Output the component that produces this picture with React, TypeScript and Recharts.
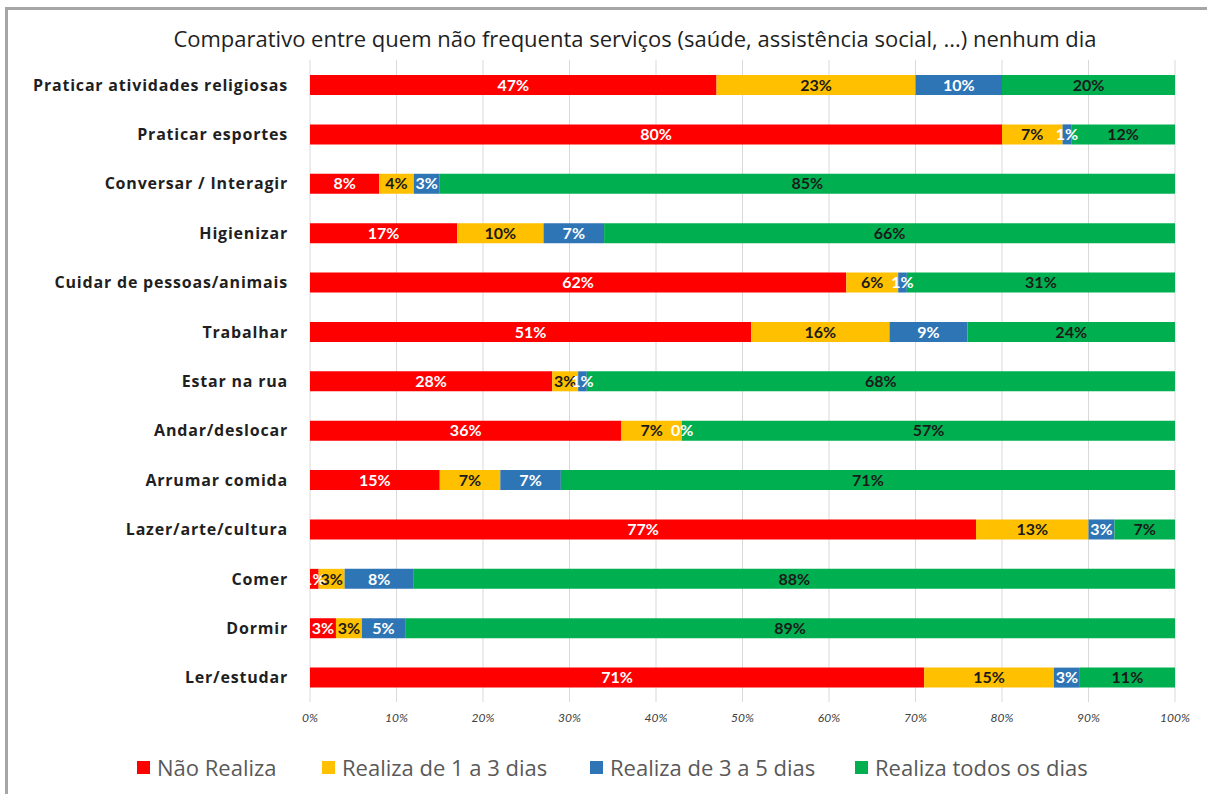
import React from "react";
import { BarChart, Bar, XAxis, YAxis, CartesianGrid, LabelList } from "recharts";

const categories = [
  "Praticar atividades religiosas",
  "Praticar esportes",
  "Conversar / Interagir",
  "Higienizar",
  "Cuidar de pessoas/animais",
  "Trabalhar",
  "Estar na rua",
  "Andar/deslocar",
  "Arrumar comida",
  "Lazer/arte/cultura",
  "Comer",
  "Dormir",
  "Ler/estudar",
];
const naoRealiza = [47, 80, 8, 17, 62, 51, 28, 36, 15, 77, 1, 3, 71];
const de1a3 = [23, 7, 4, 10, 6, 16, 3, 7, 7, 13, 3, 3, 15];
const de3a5 = [10, 1, 3, 7, 1, 9, 1, 0, 7, 3, 8, 5, 3];
const todos = [20, 12, 85, 66, 31, 24, 68, 57, 71, 7, 88, 89, 11];
const xTicks = [0, 10, 20, 30, 40, 50, 60, 70, 80, 90, 100];

const seriesNames = ["Não Realiza", "Realiza de 1 a 3 dias", "Realiza de 3 a 5 dias", "Realiza todos os dias"];
const seriesColors = ["#FF0000", "#FFC000", "#2E75B6", "#00B050"];
const labelColors = ["#FFFFFF", "#1A1A1A", "#FFFFFF", "#1A1A1A"];
const keys = ["a", "b", "c", "d"];
const seriesValues = [naoRealiza, de1a3, de3a5, todos];

const data = categories.map((name, i) => ({
  name,
  a: naoRealiza[i],
  b: de1a3[i],
  c: de3a5[i],
  d: todos[i],
}));

const FONT = "Lato, 'Open Sans', sans-serif";
const WIDE = "'Open Sans', Lato, sans-serif";

const CategoryTick = (props: any) => {
  const { x, y, payload } = props;
  return (
    <text x={x} y={y} textAnchor="end" dominantBaseline="central" fontFamily={WIDE} fontWeight={700} fontSize={16} letterSpacing={0.8} fill="#1F1F1F">
      {payload.value}
    </text>
  );
};

const XTick = (props: any) => {
  const { x, y, payload } = props;
  return (
    <text x={x} y={y + 12} textAnchor="middle" fontFamily={FONT} fontStyle="italic" fontSize={12} fill="#404040">
      {payload.value + "%"}
    </text>
  );
};

const LegendBlock = () => {
  const lefts = [137, 322, 590, 855];
  return (
    <div style={{ position: "absolute", left: 0, top: 752, width: 1207, height: 30 }}>
      {seriesNames.map((n, i) => (
        <div key={n} style={{ position: "absolute", left: lefts[i], top: 0, display: "flex", alignItems: "center", fontFamily: WIDE, fontSize: 22, color: "#595959", whiteSpace: "nowrap" }}>
          <span style={{ display: "inline-block", width: 13, height: 13, background: seriesColors[i], marginRight: 7 }} />
          {n}
        </div>
      ))}
    </div>
  );
};

export default function App() {
  return (
    <div style={{ position: "fixed", left: 0, top: 0, width: 1207, height: 794, background: "#fff", overflow: "hidden" }}>
      <div style={{ position: "absolute", left: 5, top: 7, width: 1220, height: 800, borderLeft: "3px solid #A6A6A6", borderTop: "3px solid #A6A6A6", boxSizing: "border-box" }} />
      <div style={{ position: "absolute", left: 0, top: 23, width: 1270, textAlign: "center", fontFamily: WIDE, fontSize: 22, color: "#1F1F1F" }}>
        Comparativo entre quem não frequenta serviços (saúde, assistência social, ...) nenhum dia
      </div>
      <div style={{ position: "absolute", left: 0, top: 0 }}>
        <BarChart
          width={1207}
          height={794}
          data={data}
          layout="vertical"
          margin={{ top: 60, right: 32, left: 0, bottom: 62 }}
          barSize={20}
        >
          <CartesianGrid horizontal={false} vertical={true} stroke="#D9D9D9" strokeWidth={1} />
          <XAxis
            type="number"
            domain={[0, 100]}
            ticks={xTicks}
            axisLine={false}
            tickLine={false}
            height={30}
            tick={<XTick />}
            interval={0}
          />
          <YAxis
            type="category"
            dataKey="name"
            width={310}
            axisLine={false}
            tickLine={false}
            tickSize={0}
            tickMargin={22}
            tick={<CategoryTick />}
            interval={0}
          />
          {keys.map((k, i) => (
            <Bar
              key={k}
              dataKey={k}
              name={seriesNames[i]}
              stackId="s"
              fill={seriesColors[i]}
              isAnimationActive={false}
              minPointSize={((_v: any, idx: number) => (seriesValues[i][idx] === 0 ? 0.5 : 0)) as any}
            >
              <LabelList
                dataKey={k}
                position="center"
                formatter={(v: any) => `${v}%`}
                fill={labelColors[i]}
                fontFamily={FONT}
                fontWeight={700}
                fontSize={16}
              />
            </Bar>
          ))}
        </BarChart>
      </div>
      <LegendBlock />
    </div>
  );
}
